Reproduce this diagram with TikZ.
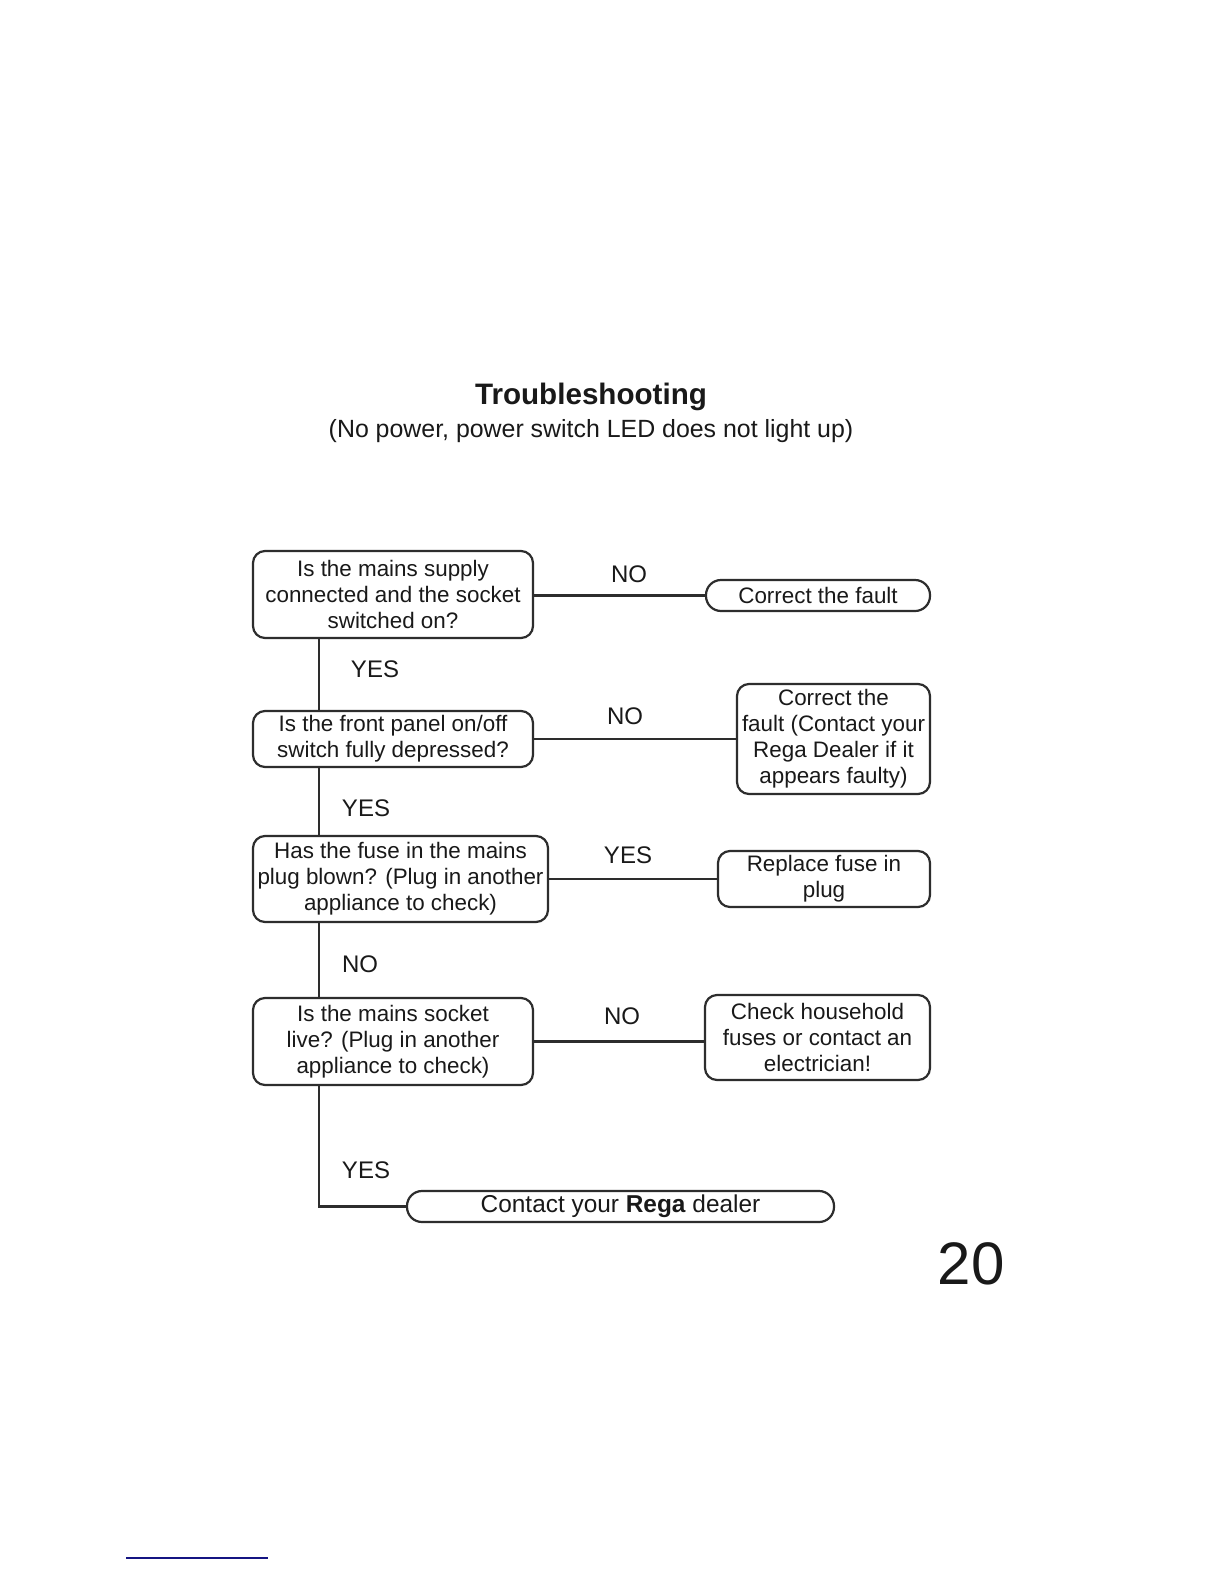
\documentclass[tikz,border=0pt]{standalone}
\usepackage{fontspec}
\setmainfont{Liberation Sans}
\usepackage{xcolor}
\definecolor{regaline}{RGB}{45,45,45}
\definecolor{regablue}{RGB}{20,20,130}

\begin{document}
\begin{tikzpicture}[
    x=0.5pt, y=-0.5pt,
    every node/.style={align=center, text=black!90, font=\fontsize{11.2}{13}\selectfont},
    qbox/.style={draw=regaline, line width=1.1pt, rounded corners=6pt, inner sep=0pt},
    pill/.style={draw=regaline, line width=1.1pt, rounded corners=7.5pt, inner sep=0pt},
    lbl/.style={font=\fontsize{12}{14}\selectfont},
    link/.style={draw=regaline, line width=1.2pt}
]
\fill[white] (0,0) rectangle (1224,1584);
\useasboundingbox (0,0) rectangle (1224,1584);

\node[font=\bfseries\fontsize{14.8}{17}\selectfont] (title) at (591,397) {Troubleshooting};
\node[font=\fontsize{12.45}{15}\selectfont] (subtitle) at (591,431) {(No power, power switch LED does not light up)};

\node[qbox, minimum width=140pt, minimum height=43.5pt] (mains) at (393,594.5) {Is the mains supply\\connected and the socket\\switched on?};
\node[pill, minimum width=112pt, minimum height=15.5pt] (fault) at (818,595.5) {Correct the fault};
\node[qbox, minimum width=140pt, minimum height=28pt] (switch) at (393,739) {Is the front panel on/off\\switch fully depressed?};
\node[qbox, minimum width=96.5pt, minimum height=55pt] (dealerfault) at (833.5,739) {Correct the\\fault (Contact your\\Rega Dealer if it\\appears faulty)};
\node[qbox, minimum width=147.5pt, minimum height=43pt] (fuse) at (400.5,879) {Has the fuse in the mains\\plug blown? (Plug in another\\appliance to check)};
\node[qbox, minimum width=106pt, minimum height=28pt] (replace) at (824,879) {Replace fuse in\\plug};
\node[qbox, minimum width=140pt, minimum height=43.5pt] (socket) at (393,1041.5) {Is the mains socket\\live? (Plug in another\\appliance to check)};
\node[qbox, minimum width=112.5pt, minimum height=42.5pt] (household) at (817.5,1037.5) {Check household\\fuses or contact an\\electrician!};
\node[pill, minimum width=213.5pt, minimum height=15.5pt, font=\fontsize{12.2}{14}\selectfont] (contact) at (620.5,1206.5) {Contact your \textbf{Rega} dealer};

\node[lbl] (no1) at (629,574) {NO};
\node[lbl] (yes1) at (375,669) {YES};
\node[lbl] (no2) at (625,716) {NO};
\node[lbl] (yes2) at (366,808) {YES};
\node[lbl] (yes3) at (628,855) {YES};
\node[lbl] (no3) at (360,964) {NO};
\node[lbl] (no4) at (622,1016) {NO};
\node[lbl] (yes4) at (366,1170) {YES};

\coordinate (trunk) at (319,0);
\draw[link] (mains.east |- fault.west) -- (fault.west);
\draw[link] (switch) -- (dealerfault);
\draw[link] (fuse) -- (replace);
\draw[link] (socket.east) -- (socket.east -| household.west);
\draw[link] (mains.south -| trunk) -- (switch.north -| trunk);
\draw[link] (switch.south -| trunk) -- (fuse.north -| trunk);
\draw[link] (fuse.south -| trunk) -- (socket.north -| trunk);
\draw[link] (socket.south -| trunk) |- (contact.west);

\node[font=\fontsize{30}{36}\selectfont] (page) at (971,1264) {20};

\coordinate (rulestart) at (126,1558);
\coordinate (ruleend) at (268,1558);
\draw[regablue, line width=1pt] (rulestart) -- (ruleend);
\end{tikzpicture}
\end{document}
